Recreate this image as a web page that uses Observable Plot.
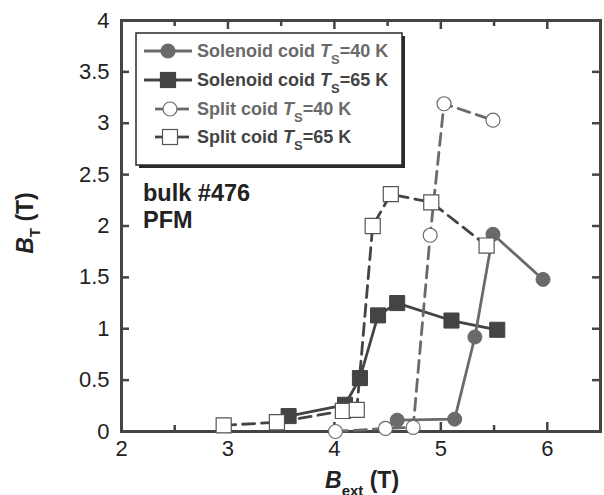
<!DOCTYPE html>
<html><head><meta charset="utf-8">
<script src="https://cdn.jsdelivr.net/npm/d3@7"></script>
<script src="https://cdn.jsdelivr.net/npm/@observablehq/plot@0.6"></script>
<style>body{margin:0;background:#fff;}</style>
</head><body><div id="chart"></div>
<script>
// ---- data ----
const seriesNames = ["Solenoid coid 40 K", "Solenoid coid 65 K", "Split coid 40 K", "Split coid 65 K"];
const solenoid40X = [4.59, 5.13, 5.32, 5.49, 5.96];
const solenoid40Y = [0.11, 0.12, 0.92, 1.92, 1.48];
const solenoid65X = [3.57, 4.10, 4.24, 4.41, 4.59, 5.10, 5.53];
const solenoid65Y = [0.15, 0.26, 0.52, 1.13, 1.25, 1.08, 0.99];
const split40X = [4.01, 4.48, 4.74, 4.90, 5.03, 5.49];
const split40Y = [0.00, 0.03, 0.04, 1.91, 3.19, 3.03];
const split65X = [2.96, 3.46, 4.08, 4.21, 4.36, 4.53, 4.91, 5.43];
const split65Y = [0.06, 0.09, 0.20, 0.21, 2.00, 2.31, 2.23, 1.81];
const xMajorTicks = [2, 3, 4, 5, 6];
const xMinorTicks = [2.5, 3.5, 4.5, 5.5];
const yTicks = [0, 0.5, 1, 1.5, 2, 2.5, 3, 3.5, 4];
const xDomain = [2, 6.5];
const yDomain = [0, 4];

const GRAY = "#6a6a6a", DARK = "#444444";
const FONT = "'Liberation Sans', Arial, Helvetica, sans-serif";

const W = 604, H = 495, ML = 121, MR = 4, MT = 20, MB = 64;
// inward tick lengths converted from pixels to data units
const pxPerX = (W - ML - MR) / (xDomain[1] - xDomain[0]);
const pxPerY = (H - MT - MB) / (yDomain[1] - yDomain[0]);
const majX = 9 / pxPerY, minX = 6 / pxPerY, majY = 8 / pxPerX;

const toRows = (xs, ys, s) => xs.map((x, i) => ({x, y: ys[i], s}));
const sol40 = toRows(solenoid40X, solenoid40Y, seriesNames[0]);
const sol65 = toRows(solenoid65X, solenoid65Y, seriesNames[1]);
const spl40 = toRows(split40X, split40Y, seriesNames[2]);
const spl65 = toRows(split65X, split65Y, seriesNames[3]);

const tk = {stroke: DARK, strokeWidth: 2.5};

const plot = Plot.plot({
  width: W, height: H,
  marginLeft: ML, marginRight: MR, marginTop: MT, marginBottom: MB,
  x: {domain: xDomain},
  y: {domain: yDomain},
  style: {fontFamily: FONT, fontSize: "22px", color: "#222", background: "#fff", overflow: "visible"},
  marks: [
    // tick labels
    Plot.axisX({ticks: xMajorTicks, tickSize: 0, tickPadding: 9, tickFormat: d => String(d), label: null, fontSize: 22, fill: "#222"}),
    Plot.axisY({ticks: yTicks, tickSize: 0, tickPadding: 12, tickFormat: d => String(d), label: null, fontSize: 22, fill: "#222"}),
    // inward ticks on all four sides
    Plot.ruleX(xMajorTicks, {x: d => d, y1: yDomain[0], y2: yDomain[0] + majX, ...tk}),
    Plot.ruleX(xMinorTicks, {x: d => d, y1: yDomain[0], y2: yDomain[0] + minX, ...tk}),
    Plot.ruleX(xMajorTicks, {x: d => d, y1: yDomain[1], y2: yDomain[1] - majX, ...tk}),
    Plot.ruleX(xMinorTicks, {x: d => d, y1: yDomain[1], y2: yDomain[1] - minX, ...tk}),
    Plot.ruleY(yTicks, {y: d => d, x1: xDomain[0], x2: xDomain[0] + majY, ...tk}),
    Plot.ruleY(yTicks, {y: d => d, x1: xDomain[1], x2: xDomain[1] - majY, ...tk}),
    Plot.frame({stroke: DARK, strokeWidth: 3}),
    // lines
    Plot.line(sol65, {x: "x", y: "y", stroke: DARK, strokeWidth: 2.8}),
    Plot.line(sol40, {x: "x", y: "y", stroke: GRAY, strokeWidth: 2.8}),
    Plot.line(spl65, {x: "x", y: "y", stroke: DARK, strokeWidth: 2.8, strokeDasharray: "12,7"}),
    Plot.line(spl40, {x: "x", y: "y", stroke: GRAY, strokeWidth: 2.8, strokeDasharray: "12,7"}),
    // markers
    Plot.dot(sol65, {x: "x", y: "y", symbol: "square", r: 8.5, fill: DARK, stroke: DARK, strokeWidth: 1}),
    Plot.dot(sol40, {x: "x", y: "y", symbol: "circle", r: 7, fill: GRAY, stroke: GRAY, strokeWidth: 1}),
    Plot.dot(spl65, {x: "x", y: "y", symbol: "square", r: 8.5, fill: "#fff", stroke: "#555", strokeWidth: 1.2}),
    Plot.dot(spl40, {x: "x", y: "y", symbol: "circle", r: 7, fill: "#fff", stroke: GRAY, strokeWidth: 1.2})
  ]
});
document.getElementById("chart").appendChild(plot);

// ---- annotations, axis titles and legend ----
const svg = d3.select(plot);

// sample annotation
const ann = svg.append("g").attr("font-family", FONT).attr("font-weight", "bold").attr("font-size", 23.5).attr("fill", "#222").attr("text-anchor", "start");
ann.append("text").attr("x", 143).attr("y", 201).text("bulk #476");
ann.append("text").attr("x", 143).attr("y", 228).text("PFM");

// y axis title
const yl = svg.append("text").attr("font-family", FONT).attr("font-weight", "bold").attr("font-size", 23).attr("fill", "#222")
  .attr("text-anchor", "middle").attr("transform", "translate(33,223) rotate(-90)");
yl.append("tspan").attr("font-style", "italic").text("B");
yl.append("tspan").attr("font-size", 15).attr("dy", 7).text("T");
yl.append("tspan").attr("dy", -7).text(" (T)");

// x axis title
const xl = svg.append("text").attr("font-family", FONT).attr("font-weight", "bold").attr("font-size", 23).attr("fill", "#222")
  .attr("text-anchor", "start").attr("x", 325).attr("y", 488);
xl.append("tspan").attr("font-style", "italic").text("B");
xl.append("tspan").attr("font-size", 15).attr("dy", 8).text("ext");
xl.append("tspan").attr("dy", -8).text(" (T)");

// legend
const leg = svg.append("g").attr("font-family", FONT).attr("font-weight", "bold").attr("font-size", 18).attr("text-anchor", "start");
leg.append("rect").attr("x", 139).attr("y", 36).attr("width", 266).attr("height", 132).attr("fill", "#2a2a2a");
leg.append("rect").attr("x", 136).attr("y", 33).attr("width", 266).attr("height", 132).attr("fill", "#fff").attr("stroke", "#2a2a2a").attr("stroke-width", 1.5);

const legendItems = [
  {label: "Solenoid coid ", temp: "=40 K", color: GRAY, text: GRAY, shape: "circle", filled: true, dashed: false},
  {label: "Solenoid coid ", temp: "=65 K", color: DARK, text: DARK, shape: "square", filled: true, dashed: false},
  {label: "Split coid ", temp: "=40 K", color: GRAY, text: GRAY, shape: "circle", filled: false, dashed: true},
  {label: "Split coid ", temp: "=65 K", color: DARK, text: DARK, shape: "square", filled: false, dashed: true}
];
const rowY = [51, 80, 109, 137];
legendItems.forEach((it, i) => {
  const cy = rowY[i];
  const x1 = it.dashed ? 155 : 144, x2 = it.dashed ? 189 : 192;
  const cx = it.dashed ? 170 : 168;
  if (it.dashed) {
    leg.append("line").attr("x1", x1).attr("x2", cx - 5).attr("y1", cy).attr("y2", cy).attr("stroke", it.color).attr("stroke-width", 2.8);
    leg.append("line").attr("x1", cx + 5).attr("x2", x2).attr("y1", cy).attr("y2", cy).attr("stroke", it.color).attr("stroke-width", 2.8);
  } else {
    leg.append("line").attr("x1", x1).attr("x2", x2).attr("y1", cy).attr("y2", cy).attr("stroke", it.color).attr("stroke-width", 2.8);
  }
  const fill = it.filled ? it.color : "#fff";
  if (it.shape === "circle") {
    leg.append("circle").attr("cx", cx).attr("cy", cy).attr("r", 7).attr("fill", fill).attr("stroke", it.filled ? it.color : GRAY).attr("stroke-width", 1.2);
  } else {
    leg.append("rect").attr("x", cx - 7.5).attr("y", cy - 7.5).attr("width", 15).attr("height", 15).attr("fill", fill).attr("stroke", it.filled ? it.color : "#555").attr("stroke-width", 1.2);
  }
  const t = leg.append("text").attr("x", 197).attr("y", cy + 6).attr("fill", it.text);
  t.append("tspan").text(it.label);
  t.append("tspan").attr("font-style", "italic").text("T");
  t.append("tspan").attr("font-size", 13).attr("dy", 7).text("S");
  t.append("tspan").attr("dy", -7).text(it.temp);
});
</script>
</body></html>
